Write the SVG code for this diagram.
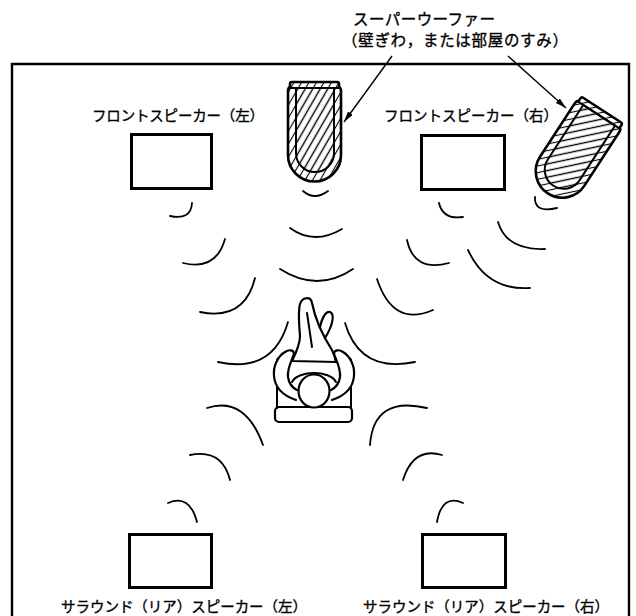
<svg xmlns="http://www.w3.org/2000/svg" width="636" height="616" viewBox="0 0 636 616">
<style>
  .room{fill:none;stroke:#000;stroke-width:2.4}
  .spk{fill:#fff;stroke:#000;stroke-width:3}
  .lbl{font-family:"Noto Sans CJK JP","Noto Sans",sans-serif;font-size:14.5px;fill:#000;stroke:#000;stroke-width:0.35}
  .ttl{font-family:"Noto Sans CJK JP","Noto Sans",sans-serif;font-size:15.5px;fill:#000;stroke:#000;stroke-width:0.35}
  .wave{fill:none;stroke:#000;stroke-width:1.8;stroke-linecap:round}
  .sw{stroke:#000;stroke-width:2.6;stroke-linejoin:round}
  .swi{stroke:#000;stroke-width:2}
  .lead{fill:none;stroke:#000;stroke-width:1.4}
  .fig{fill:#fff;stroke:#000;stroke-width:2.2;stroke-linejoin:round;stroke-linecap:round}
  .ln{fill:none;stroke:#000;stroke-width:2;stroke-linecap:round;stroke-linejoin:round}
</style>
<defs>
  <!-- hatching for the upright subwoofer -->
  <pattern id="hatchA" patternUnits="userSpaceOnUse" width="8" height="6.5" patternTransform="rotate(-60)">
    <rect width="8" height="6.5" fill="#fff"/>
    <line x1="0" y1="3.25" x2="8" y2="3.25" stroke="#000" stroke-width="1.1"/>
  </pattern>
  <pattern id="hatchB" patternUnits="userSpaceOnUse" width="8" height="6.5" patternTransform="rotate(-60)">
    <rect width="8" height="6.5" fill="#fff"/>
    <line x1="0" y1="3.25" x2="8" y2="3.25" stroke="#000" stroke-width="1.4"/>
  </pattern>
  <!-- hatching for the tilted corner subwoofer (inside a rotated group) -->
  <pattern id="hatchC" patternUnits="userSpaceOnUse" width="8" height="6.5" patternTransform="rotate(-45)">
    <rect width="8" height="6.5" fill="#fff"/>
    <line x1="0" y1="3.25" x2="8" y2="3.25" stroke="#000" stroke-width="1.1"/>
  </pattern>
  <pattern id="hatchD" patternUnits="userSpaceOnUse" width="8" height="6.5" patternTransform="rotate(-45)">
    <rect width="8" height="6.5" fill="#fff"/>
    <line x1="0" y1="3.25" x2="8" y2="3.25" stroke="#000" stroke-width="1.4"/>
  </pattern>
  <marker id="arrow" markerUnits="userSpaceOnUse" markerWidth="11" markerHeight="6" refX="11" refY="3" orient="auto" viewBox="0 0 11 6">
    <path d="M0,0 L11,3 L0,6 Z" fill="#000"/>
  </marker>
</defs>

<rect width="636" height="616" fill="#fff"/>

<!-- room walls (open at the bottom edge) -->
<path id="room" class="room" d="M12,616 V64 H629 V616"/>

<!-- subwoofer caption -->
<g id="subwoofer-caption">
  <text class="ttl" x="353" y="25" textLength="142">スーパーウーファー</text>
  <text class="ttl" x="342" y="46" textLength="226">（壁ぎわ，または部屋のすみ）</text>
</g>

<!-- front speakers -->
<g id="front-left">
  <text class="lbl" x="92" y="121" textLength="172">フロントスピーカー（左）</text>
  <rect class="spk" x="131.5" y="134.5" width="80" height="54"/>
</g>
<g id="front-right">
  <text class="lbl" x="384" y="121" textLength="174">フロントスピーカー（右）</text>
  <rect class="spk" x="421.5" y="135.5" width="83" height="54"/>
</g>

<!-- surround (rear) speakers -->
<g id="surround-left">
  <rect class="spk" x="129.5" y="534.5" width="82" height="53"/>
  <text class="lbl" x="61" y="612" textLength="246">サラウンド（リア）スピーカー（左）</text>
</g>
<g id="surround-right">
  <rect class="spk" x="422.5" y="534.5" width="83" height="53"/>
  <text class="lbl" x="363" y="612" textLength="246">サラウンド（リア）スピーカー（右）</text>
</g>

<!-- subwoofer against the wall -->
<g id="subwoofer-wall">
  <path class="sw" fill="url(#hatchA)" d="M292,82 H337 Q339,82 339,84 V87 Q341,88 341,91 V155 A26.5,26.5 0 0 1 288,155 V91 Q288,88 290,87 V84 Q290,82 292,82 Z"/>
  <path class="swi" fill="url(#hatchB)" d="M296,88 V153 A19,19 0 0 0 334,153 V88 Z"/>
  <path class="swi" fill="none" d="M289,88 H340"/>
</g>

<!-- subwoofer in the corner -->
<g id="subwoofer-corner" transform="translate(602,110) rotate(33) translate(-314.5,-82)">
  <path class="sw" fill="url(#hatchC)" d="M292,82 H337 Q339,82 339,84 V87 Q341,88 341,91 V155 A26.5,26.5 0 0 1 288,155 V91 Q288,88 290,87 V84 Q290,82 292,82 Z"/>
  <path class="swi" fill="url(#hatchD)" d="M296,88 V153 A19,19 0 0 0 334,153 V88 Z"/>
  <path class="swi" fill="none" d="M289,88 H340"/>
</g>

<!-- leader lines -->
<g id="connectors">
  <path class="lead" d="M392,56 L344,122" marker-end="url(#arrow)"/>
  <path class="lead" d="M508,56 L566,108" marker-end="url(#arrow)"/>
</g>

<!-- sound waves -->
<g id="waves">
  <!-- front left -->
  <path class="wave" d="M192,203 Q191,220.5 170,216"/>
  <path class="wave" d="M225,239 Q216,271 183,263"/>
  <path class="wave" d="M255,278 Q244.5,321 200,312"/>
  <path class="wave" d="M288,322 Q273,374 218,362"/>
  <!-- front right -->
  <path class="wave" d="M439,203 Q443,220 463,217"/>
  <path class="wave" d="M407,240 Q414,272.5 449,263"/>
  <path class="wave" d="M377,279 Q393,327.5 433,310"/>
  <path class="wave" d="M345,323 Q360,373.5 415,362"/>
  <!-- corner subwoofer -->
  <path class="wave" d="M535,197 Q534,213.5 557,208"/>
  <path class="wave" d="M498,222 Q506.5,250.5 545,249"/>
  <path class="wave" d="M468,250 Q487,291 530,288"/>
  <!-- wall subwoofer -->
  <path class="wave" d="M303,191 Q314.5,201 328,191"/>
  <path class="wave" d="M290,228 Q314,245.5 342,229"/>
  <path class="wave" d="M280,269 Q317.5,293 353,269"/>
  <!-- surround left -->
  <path class="wave" d="M207,408 Q245,395.5 263,445"/>
  <path class="wave" d="M190,455 Q222,448.5 230,480"/>
  <path class="wave" d="M168,503 Q189.5,493.5 197,522"/>
  <!-- surround right -->
  <path class="wave" d="M370,445 Q373.5,395.5 427,408"/>
  <path class="wave" d="M403,480 Q413.5,446.5 442,455"/>
  <path class="wave" d="M437,522 Q442,493.5 463,503"/>
</g>

<!-- listener in a chair, seen from above -->
<g id="listener">
  <rect class="fig" x="275" y="407" width="77" height="15" rx="4"/>
  <path class="ln" d="M277,408 V361 Q277,358 280,358 H283"/>
  <path class="ln" d="M351,408 V361 Q351,358 348,358 H345"/>
  <!-- legs -->
  <path class="fig" d="M319,332 C321,320 325,311 330,312 C335,314 333,325 325,338 Z"/>
  <path class="fig" d="M292,361 C297,351 300,343 300,336 C299,325 298,312 300,304 C302,297 311,296 312,303 C315,318 321,333 332,350 C334,354 335,357 336,362 Z"/>
  <path class="ln" d="M307,313 L312,347"/>
  <!-- arms -->
  <path class="fig" d="M296,400 C284,396 275,388 274,376 C273,366 278,356 285,352 C289,349 294,350 294,354 C291,362 287,369 288,377 C289,384 293,388 297,390"/>
  <path class="fig" d="M332,400 C344,396 353,388 354,376 C355,366 350,356 343,352 C339,349 334,350 334,354 C337,362 341,369 340,377 C339,384 335,388 331,390"/>
  <!-- shoulders and head -->
  <path class="ln" d="M292,382 C298,370 330,370 336,382"/>
  <ellipse class="fig" cx="314" cy="391" rx="15.5" ry="16.5"/>
</g>
</svg>
